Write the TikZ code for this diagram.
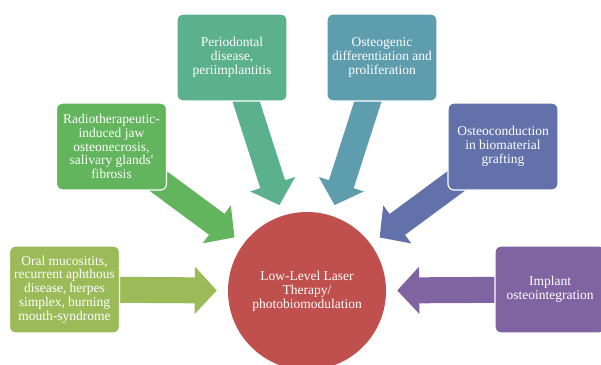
\documentclass[tikz,border=0pt]{standalone}
\usepackage{fontspec}
\setmainfont{Liberation Serif}
\usetikzlibrary{arrows.meta}
\usetikzlibrary{backgrounds}

\definecolor{oralgreen}{RGB}{155,187,89}
\definecolor{radiogreen}{RGB}{98,181,92}
\definecolor{periogreen}{RGB}{91,176,142}
\definecolor{osteogteal}{RGB}{94,157,174}
\definecolor{osteocblue}{RGB}{99,113,171}
\definecolor{implantpurple}{RGB}{128,100,162}
\definecolor{lllred}{RGB}{192,80,77}

\begin{document}
\begin{tikzpicture}[x=1pt,y=-1pt,line join=miter,
	box/.style={draw=white,line width=1.2pt,rounded corners=6pt,minimum width=110pt,minimum height=87pt,inner sep=1pt,align=center,text=white,font=\fontsize{13.5}{13.8}\selectfont},
	fatarrow/.style={line width=26pt,-{Triangle[length=22pt,width=46pt]},shorten >=11pt}]
				\useasboundingbox (0,0) rectangle (601,364);
				
				\node[circle,fill=lllred,minimum size=158pt,inner sep=0pt,align=center,text=white,font=\fontsize{13.5}{13.8}\selectfont] (lllt) at (307,291) {Low-Level Laser\\Therapy/\\photobiomodulation};
				
				\node[box,fill=oralgreen] (oral) at (64.5,289.5) {Oral mucositits,\\recurrent aphthous\\disease, herpes\\simplex, burning\\mouth-syndrome};
				\node[box,fill=radiogreen] (radio) at (111.5,146.5) {Radiotherapeutic-\\induced jaw\\osteonecrosis,\\salivary glands\textquotesingle\\fibrosis};
				\node[box,fill=periogreen] (perio) at (232,57.5) {Periodontal\\disease,\\periimplantitis};
				\node[box,fill=osteogteal] (osteog) at (382,57.5) {Osteogenic\\differentiation and\\proliferation};
				\node[box,fill=osteocblue] (osteoc) at (503,146.5) {Osteoconduction\\in biomaterial\\grafting};
				\node[box,fill=implantpurple] (implant) at (550,289.5) {Implant\\osteointegration};
				
				\begin{pgfonlayer}{background}
					\draw[fatarrow,oralgreen] (oral.center) -- (lllt);
					\draw[fatarrow,radiogreen] (radio.center) -- (lllt);
					\draw[fatarrow,periogreen] (perio.center) -- (lllt);
					\draw[fatarrow,osteogteal] (osteog.center) -- (lllt);
					\draw[fatarrow,osteocblue] (osteoc.center) -- (lllt);
					\draw[fatarrow,implantpurple] (implant.center) -- (lllt);
				\end{pgfonlayer}
\end{tikzpicture}
\end{document}
